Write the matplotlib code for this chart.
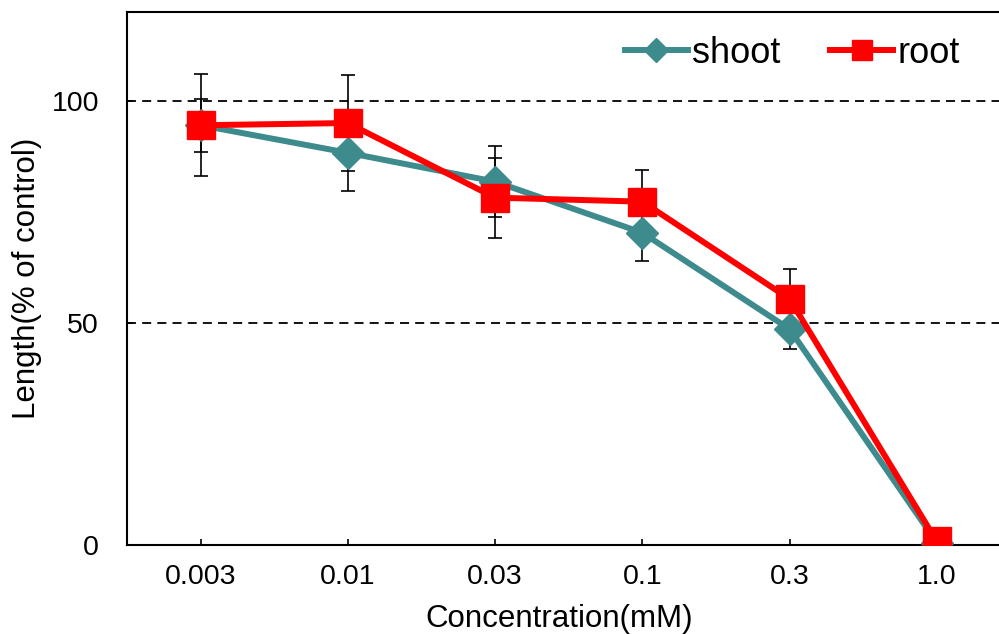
import matplotlib
matplotlib.use("Agg")
import matplotlib.pyplot as plt
import numpy as np

plt.rcParams['font.family'] = ['Liberation Sans', 'DejaVu Sans']

conc = ["0.003", "0.01", "0.03", "0.1", "0.3", "1.0"]
shoot = [94.5, 88.3, 81.8, 70.3, 48.6, 0.5]
shoot_err = [6.0, 8.6, 8.0, 6.3, 4.5, 0.0]
root = [94.5, 95.0, 78.2, 77.3, 55.4, 0.8]
root_err = [11.5, 10.8, 9.0, 7.2, 6.8, 0.0]

teal = "#3E8B8E"
red = "#FF0000"

fig = plt.figure(figsize=(9.99, 6.34), dpi=100)
ax = fig.add_axes([0.127, 0.1404, 0.8845, 0.8407])

x = np.arange(len(conc))

for val in (50, 100):
    ax.axhline(val, color="black", lw=1.3, dashes=(5.0, 3.4), zorder=0.5)

ax.errorbar(x, shoot, yerr=shoot_err, fmt="none", ecolor="black",
            elinewidth=1.2, capsize=4.7, capthick=1.2, zorder=1)
ax.errorbar(x, root, yerr=root_err, fmt="none", ecolor="black",
            elinewidth=1.2, capsize=4.7, capthick=1.2, zorder=1)

ax.plot(x, shoot, color=teal, lw=4.3, marker="D", markersize=16,
        markerfacecolor=teal, markeredgecolor=teal, label="shoot", zorder=3)
ax.plot(x, root, color=red, lw=4.3, marker="s", markersize=19.5,
        markerfacecolor=red, markeredgecolor=red, label="root", zorder=4)

ax.set_xlim(-0.5, 5.5)
ax.set_ylim(0, 120)
ax.set_xticks(x)
ax.set_xticklabels(conc)
ax.set_yticks([0, 50, 100])
ax.tick_params(axis="both", direction="in", length=4, width=1.2,
               labelsize=20.5)
ax.tick_params(axis="y", pad=20)
ax.tick_params(axis="x", pad=14)

for s in ax.spines.values():
    s.set_linewidth(1.5)

ax.set_xlabel("Concentration(mM)", fontsize=22.5)
ax.set_ylabel("Length(% of control)", fontsize=22.5)
ax.xaxis.set_label_coords(0.489, -0.11)
ax.yaxis.set_label_coords(-0.096, 0.5)

ax.legend(loc="center left", bbox_to_anchor=(0.5636, 0.922), ncol=2,
          frameon=False, fontsize=26, markerscale=0.76, handlelength=1.75,
          handletextpad=0.11, columnspacing=1.38, borderpad=0,
          borderaxespad=0)

fig.savefig("out.png", dpi=100)
